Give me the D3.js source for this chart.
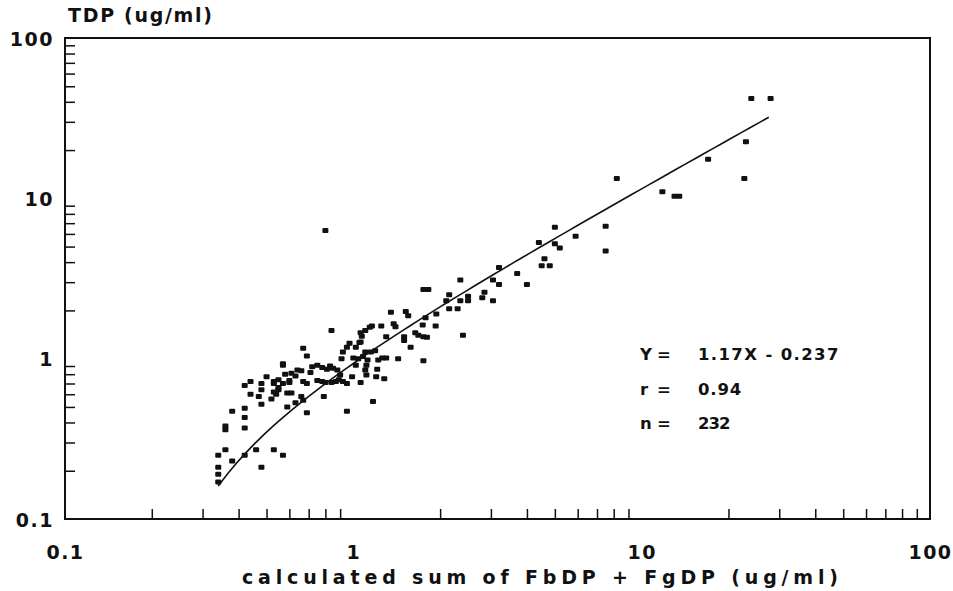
<!DOCTYPE html>
<html>
<head>
<meta charset="utf-8">
<script src="https://cdn.jsdelivr.net/npm/d3@7"></script>
<style>
  body { margin: 0; background: #fff; }
  svg { display: block; }
  text { font-family: "DejaVu Sans", Verdana, sans-serif; font-weight: bold; fill: #111; }
</style>
</head>
<body>
<svg width="953" height="591"></svg>
<script>
// calculated FbDP + FgDP (x) and measured TDP (y), ug/ml
const sumFbFg = [
  24, 28, 23, 17, 8.2, 22.7, 11.8, 13, 13.5, 7.5, 7.5,
  5, 5.9, 4.4, 5.0, 5.2, 4.6, 4.5, 4.8, 3.7, 3.2, 2.35, 3.05, 3.2, 4.0, 2.85, 2.8, 3.05, 2.15, 2.1, 2.35, 2.5, 2.5, 2.15, 2.3, 2.4,
  0.8, 1.75, 1.82, 1.35, 1.52, 1.55, 1.78, 1.94, 1.93, 1.38, 1.4, 1.16, 1.25, 1.3, 1.5, 1.5, 1.64, 1.68, 1.75, 1.8, 1.74, 1.58,
  1.43, 1.75, 1.26, 1.3, 1.17, 0.95, 0.69, 0.84, 0.67, 0.69, 0.57, 1.06, 1.07, 0.97, 0.95, 0.92, 1.02, 1.06, 0.91, 1.0, 1.04,
  1.08, 1.12, 1.11, 1.1, 1.11, 1.02, 0.99, 1.21, 1.2, 1.28, 1.06, 0.88, 0.9, 0.89, 0.75, 0.78, 0.81, 0.85, 0.83, 0.75, 0.78,
  0.8, 0.84, 0.87, 0.92, 0.95, 0.79, 0.67, 0.69, 0.66, 0.67, 0.61, 0.63, 0.58, 0.6, 0.72, 0.71, 0.63, 0.59, 0.53, 0.55, 0.54,
  0.52, 0.59, 0.61, 1.1, 1.15, 1.19, 1.22, 1.05, 1.1, 1.14, 0.64, 0.66, 0.57, 0.6,
  0.57, 0.5, 0.48, 0.48, 0.47, 0.48, 0.53, 0.55, 0.55, 0.53, 0.42, 0.44, 0.44, 0.42, 0.38, 0.42, 0.42, 0.36, 0.36, 0.36,
  0.34, 0.34, 0.34, 0.34, 0.38, 0.42, 0.46, 0.48, 0.53, 0.57
];
const tdp = [
  42, 42, 22.5, 17.5, 13.3, 13.3, 11, 10.3, 10.3, 6.7, 4.7,
  6.6, 5.8, 5.3, 5.2, 4.9, 4.2, 3.8, 3.8, 3.4, 3.7, 3.1, 3.1, 2.9, 2.9, 2.6, 2.4, 2.3, 2.5, 2.3, 2.3, 2.45, 2.3, 2.05, 2.05, 1.4,
  6.3, 2.7, 2.7, 1.95, 1.97, 1.85, 1.8, 1.9, 1.6, 1.65, 1.58, 1.6, 1.6, 1.37, 1.37, 1.3, 1.45, 1.4, 1.37, 1.36, 1.62, 1.18,
  1.0, 0.97, 1.01, 1.01, 0.54, 0.47, 0.46, 1.5, 1.16, 1.04, 0.91, 1.45, 1.38, 1.25, 1.18, 1.1, 1.18, 1.27, 1.0, 1.01, 1.0,
  1.03, 0.98, 0.91, 0.85, 0.79, 0.91, 0.77, 0.86, 0.77, 0.75, 0.71, 0.85, 0.79, 0.74, 0.91, 0.88, 0.86, 0.87, 0.9, 0.73, 0.72,
  0.71, 0.71, 0.72, 0.72, 0.7, 0.58, 0.72, 0.7, 0.58, 0.55, 0.81, 0.78, 0.8, 0.73, 0.89, 0.82, 0.53, 0.5, 0.7, 0.64, 0.6,
  0.56, 0.61, 0.61, 1.1, 1.1, 1.12, 0.98, 1.26, 1.5, 1.57, 0.85, 0.84, 0.7, 0.71,
  0.93, 0.77, 0.7, 0.64, 0.58, 0.52, 0.72, 0.74, 0.66, 0.62, 0.68, 0.72, 0.6, 0.49, 0.47, 0.43, 0.37, 0.38, 0.36, 0.27,
  0.25, 0.21, 0.19, 0.17, 0.23, 0.25, 0.27, 0.21, 0.27, 0.25
];

// regression shown on the chart: Y = 1.17X - 0.237, drawn over the data range
const slope = 1.17;
const intercept = -0.237;
const fitRange = [0.34, 27.6];

const decadeTicks = [0.1, 1, 10, 100];
const tickLabels = ["0.1", "1", "10", "100"];
const statLines = [
  ["Y", "1.17X - 0.237"],
  ["r", "0.94"],
  ["n", "232"]
];

const plotLeft = 65, plotRight = 930, plotTop = 38, plotBottom = 519;
const svg = d3.select("svg");

const x = d3.scaleLog().domain([0.1, 100]).range([plotLeft, plotRight]);
const y = d3.scaleLog().domain([0.1, 100]).range([plotBottom, plotTop]);

const minorTicks = [];
[0.1, 1, 10].forEach(function (d) {
  for (let k = 2; k <= 9; k++) minorTicks.push(d * k);
});

// frame
svg.append("rect")
  .attr("x", plotLeft).attr("y", plotTop)
  .attr("width", plotRight - plotLeft).attr("height", plotBottom - plotTop)
  .attr("fill", "none").attr("stroke", "#111").attr("stroke-width", 2);

// inward minor ticks
const xAxis = svg.append("g")
  .attr("transform", "translate(0," + plotBottom + ")")
  .call(d3.axisBottom(x).tickValues(minorTicks).tickSize(-10).tickFormat(""));
const yAxis = svg.append("g")
  .attr("transform", "translate(" + plotLeft + ",0)")
  .call(d3.axisLeft(y).tickValues(minorTicks).tickSize(-10).tickFormat(""));
[xAxis, yAxis].forEach(function (g) {
  g.select(".domain").remove();
  g.selectAll("line").attr("stroke", "#111").attr("stroke-width", 1.5);
});

// decade labels
svg.append("g")
  .attr("transform", "translate(0," + (plotBottom + 40) + ")")
  .call(d3.axisBottom(x).tickValues(decadeTicks).tickSize(0).tickPadding(0)
    .tickFormat(function (d, i) { return tickLabels[i]; }))
  .call(function (g) { g.select(".domain").remove(); })
  .selectAll("text")
  .attr("dy", 0)
  .attr("font-size", 19).attr("letter-spacing", 1.5)
  .attr("font-family", null);

svg.append("g")
  .attr("transform", "translate(54,0)")
  .call(d3.axisLeft(y).tickValues(decadeTicks).tickSize(0).tickPadding(0)
    .tickFormat(function (d, i) { return tickLabels[i]; }))
  .call(function (g) { g.select(".domain").remove(); })
  .selectAll("text")
  .attr("dy", "0.38em")
  .attr("font-size", 19).attr("letter-spacing", 1.5)
  .attr("font-family", null);

// titles
svg.append("text")
  .attr("x", 68).attr("y", 22)
  .attr("font-size", 19)
  .attr("textLength", 144).attr("lengthAdjust", "spacing")
  .text("TDP (ug/ml)");

svg.append("text")
  .attr("x", 242).attr("y", 584)
  .attr("font-size", 19)
  .attr("textLength", 596).attr("lengthAdjust", "spacing")
  .text("calculated sum of FbDP + FgDP (ug/ml)");

// regression line
const fitX = d3.range(0, 61).map(function (i) {
  return fitRange[0] * Math.pow(fitRange[1] / fitRange[0], i / 60);
});
svg.append("path")
  .datum(fitX)
  .attr("fill", "none")
  .attr("stroke", "#111")
  .attr("stroke-width", 1.6)
  .attr("d", d3.line()
    .x(function (d) { return x(d); })
    .y(function (d) { return y(slope * d + intercept); }));

// points
svg.append("g")
  .selectAll("rect")
  .data(sumFbFg)
  .join("rect")
  .attr("x", function (d) { return x(d) - 3; })
  .attr("y", function (d, i) { return y(tdp[i]) - 2.5; })
  .attr("width", 6)
  .attr("height", 5)
  .attr("rx", 1)
  .attr("fill", "#111");

// statistics block
const stats = svg.append("g").attr("font-size", 16.5);
stats.selectAll(".lab")
  .data(statLines)
  .join("text")
  .attr("class", "lab")
  .attr("x", 640)
  .attr("y", function (d, i) { return 360 + i * 34.5; })
  .text(function (d) { return d[0]; });
stats.selectAll(".eq")
  .data(statLines)
  .join("text")
  .attr("class", "eq")
  .attr("x", 657)
  .attr("y", function (d, i) { return 360 + i * 34.5; })
  .text("=");
stats.selectAll(".val")
  .data(statLines)
  .join("text")
  .attr("class", "val")
  .attr("x", 698)
  .attr("y", function (d, i) { return 360 + i * 34.5; })
  .attr("textLength", function (d) { return d[1].length * 10.8; })
  .attr("lengthAdjust", "spacing")
  .text(function (d) { return d[1]; });
</script>
</body>
</html>
